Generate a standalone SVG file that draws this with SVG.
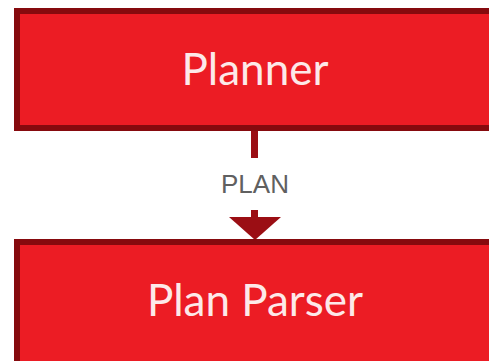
<svg xmlns="http://www.w3.org/2000/svg" width="489" height="361" viewBox="0 0 489 361">
  <style>
    .box { fill: #ec1c24; stroke: #860a0e; stroke-width: 6; }
    .title { font-family: Lato, "Open Sans", sans-serif; font-size: 44px; fill: #fde9e9; text-anchor: middle; }
    .label { font-family: "Liberation Sans", Arial, sans-serif; font-size: 26px; fill: #606060; text-anchor: middle; }
    .wire { stroke: #9b0e14; stroke-width: 7; fill: none; }
    .head { fill: #9b0e14; }
  </style>
  <rect width="489" height="361" fill="#ffffff"/>
  <g id="connectors">
    <line class="wire" x1="254.5" y1="130" x2="254.5" y2="158"/>
    <line class="wire" x1="254.5" y1="210" x2="254.5" y2="222"/>
    <polygon class="head" points="229,217 281,217 255,240"/>
    <text class="label" x="255" y="193">PLAN</text>
  </g>
  <g id="planner">
    <rect class="box" x="17" y="11" width="500" height="117"/>
    <text class="title" x="255" y="85">Planner</text>
  </g>
  <g id="plan-parser">
    <rect class="box" x="17" y="242" width="500" height="150"/>
    <text class="title" x="255" y="316">Plan Parser</text>
  </g>
</svg>
